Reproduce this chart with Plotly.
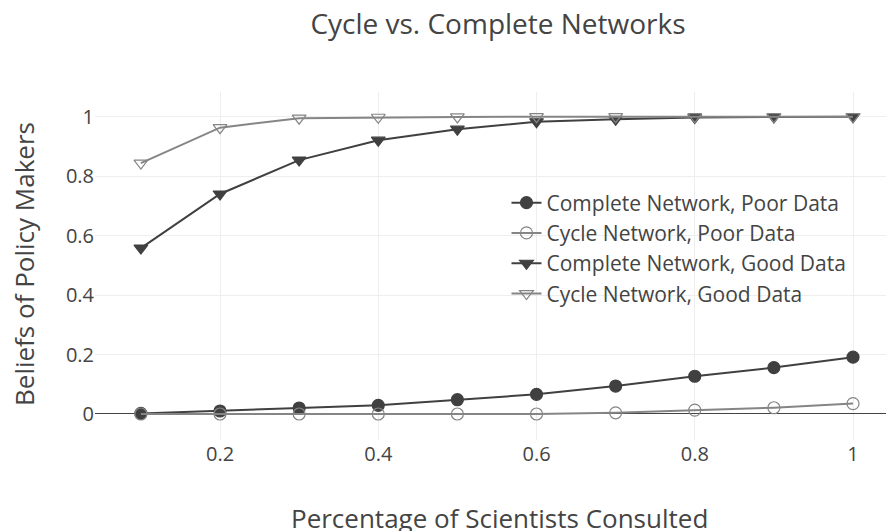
import plotly.graph_objects as go

x_vals = [0.1, 0.2, 0.3, 0.4, 0.5, 0.6, 0.7, 0.8, 0.9, 1.0]
complete_poor = [0.002, 0.010, 0.020, 0.029, 0.048, 0.066, 0.094, 0.127, 0.156, 0.191]
cycle_poor = [0.0, 0.0, 0.0, 0.0, 0.0, 0.0, 0.004, 0.013, 0.021, 0.035]
complete_good = [0.558, 0.740, 0.854, 0.921, 0.958, 0.983, 0.991, 0.997, 0.999, 1.0]
cycle_good = [0.844, 0.963, 0.995, 0.998, 0.999, 1.0, 1.0, 1.0, 1.0, 1.0]

names = ["Complete Network, Poor Data", "Cycle Network, Poor Data",
         "Complete Network, Good Data", "Cycle Network, Good Data"]
series = [complete_poor, cycle_poor, complete_good, cycle_good]
colors = ["#404040", "#858585", "#404040", "#858585"]
symbols = ["circle", "circle-open", "triangle-down", "triangle-down-open"]

x_title = "Percentage of Scientists Consulted"
y_title = "Beliefs of Policy Makers"

fig = go.Figure()
for name, ys, c, s in zip(names, series, colors, symbols):
    fig.add_trace(go.Scatter(
        x=x_vals, y=ys, name=name, mode="lines+markers",
        line=dict(color=c, width=2),
        marker=dict(symbol=s, size=12, color=c, line=dict(color=c, width=1.2)),
    ))

font_color = "#444"
fig.update_layout(
    width=886, height=523,
    margin=dict(l=87, r=0, t=84, b=91),
    paper_bgcolor="white", plot_bgcolor="white",
    font=dict(family="Open Sans", color=font_color),
    title=dict(text="Cycle vs. Complete Networks", x=490/886, xanchor="center",
               xref="container", y=1 - 16/523, yanchor="middle",
               font=dict(size=28, color=font_color)),
    xaxis=dict(range=[0.042, 1.0518], tickvals=[0.2, 0.4, 0.6, 0.8, 1.0],
               ticktext=["0.2", "0.4", "0.6", "0.8", "1"],
               showgrid=True, gridcolor="#eee", zeroline=False,
               tickfont=dict(size=20)),
    yaxis=dict(range=[-0.0875, 1.083], tickvals=[0, 0.2, 0.4, 0.6, 0.8, 1.0],
               ticktext=["0", "0.2", "0.4", "0.6", "0.8", "1"],
               showgrid=True, gridcolor="#eee", zeroline=True,
               zerolinecolor="#444", zerolinewidth=1,
               tickfont=dict(size=20)),
    legend=dict(x=0.515, y=0.74, xanchor="left", yanchor="top",
                bgcolor="rgba(255,255,255,0)", font=dict(size=21)),
    showlegend=True,
    annotations=[
        dict(text=x_title, xref="paper", yref="paper", x=(491 - 87) / 799,
             y=-(510 - 432) / 348, xanchor="center", yanchor="middle",
             showarrow=False, font=dict(size=26, color=font_color)),
        dict(text=y_title, xref="paper", yref="paper", x=(16 - 87) / 799,
             y=(432 - 256) / 348, xanchor="center", yanchor="middle",
             textangle=-90, showarrow=False,
             font=dict(size=26, color=font_color)),
    ],
)

fig.write_html("out.html")
